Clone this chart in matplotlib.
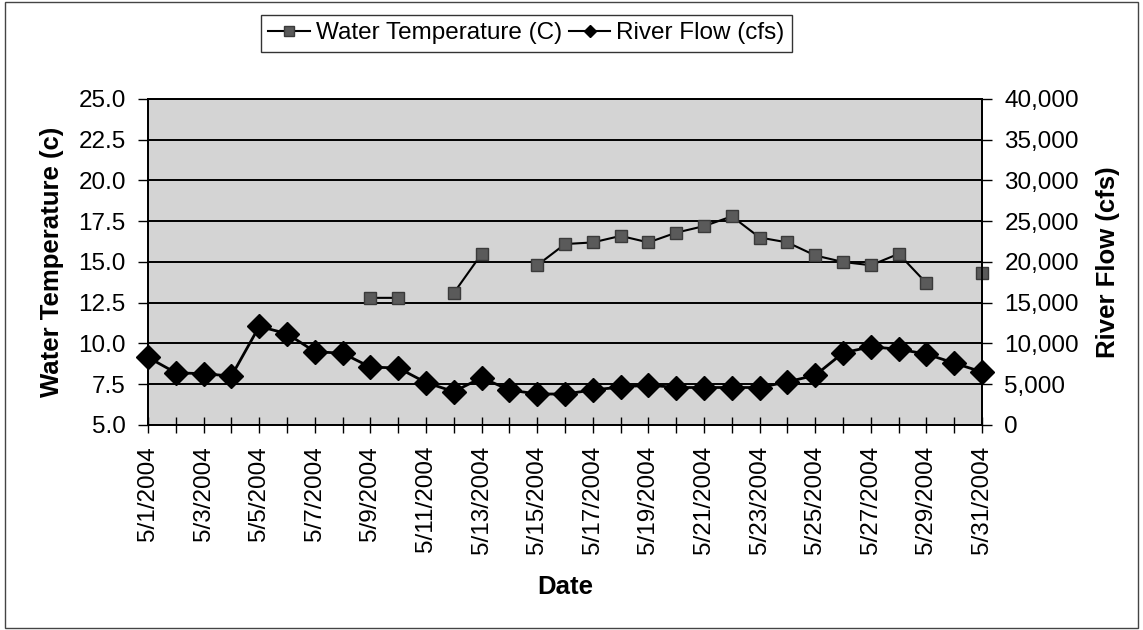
import numpy as np
import matplotlib
matplotlib.use("Agg")
import matplotlib.pyplot as plt
from matplotlib.lines import Line2D
from matplotlib.patches import Rectangle
from matplotlib.ticker import FuncFormatter

plt.rcParams['font.family'] = ['Liberation Sans', 'DejaVu Sans']

# Daily readings for May 2004
days = list(range(1, 32))
date_labels = [f"5/{d}/2004" for d in days]

water_temp = [np.nan, np.nan, np.nan, np.nan, np.nan, np.nan, np.nan, np.nan,
              12.8, 12.8, np.nan, 13.1, 15.5, np.nan, 14.8, 16.1, 16.2, 16.6,
              16.2, 16.8, 17.2, 17.8, 16.5, 16.2, 15.4, 15.0, 14.8, 15.5,
              13.7, np.nan, 14.3]

river_flow = [8300, 6400, 6300, 6000, 12100, 11200, 9000, 8800, 7100, 7000,
              5200, 4100, 5800, 4300, 3800, 3800, 4300, 4650, 4900, 4600,
              4600, 4600, 4600, 5300, 6100, 8850, 9600, 9300, 8700, 7600,
              6500]

fs_tick = 17.5
fs_label = 18.5

fig = plt.figure(figsize=(11.43, 6.3), dpi=100)
ax = fig.add_axes([0.1295, 0.3254, 0.7297, 0.5175])
ax.set_facecolor('#d4d4d4')

# temperature on the left axis
ax.plot(days, water_temp, color='black', lw=1.5, marker='s', markersize=9,
        markerfacecolor='#5a5a5a', markeredgecolor='#3a3a3a', zorder=3,
        clip_on=False)
ax.set_ylim(5, 25)
ax.set_yticks(np.arange(5, 25.1, 2.5))
ax.set_yticklabels([f"{v:.1f}" for v in np.arange(5, 25.1, 2.5)], fontsize=fs_tick)
ax.set_xlim(1, 31)
ax.set_xticks(days)
ax.set_xticklabels([lbl if i % 2 == 0 else '' for i, lbl in enumerate(date_labels)],
                   rotation=90, fontsize=fs_tick)
ax.tick_params(axis='x', direction='inout', length=12, width=1, pad=9)
ax.tick_params(axis='y', direction='out', length=7, width=1, pad=9)
ax.yaxis.grid(True, color='black', lw=1.4)
ax.set_axisbelow(True)
for s in ax.spines.values():
    s.set_color('black')
    s.set_linewidth(1.3)

ax.set_ylabel('Water Temperature (c)', fontsize=fs_label, fontweight='bold', labelpad=10)
ax.set_xlabel('Date', fontsize=fs_label, fontweight='bold', labelpad=15)

# river flow on the right axis
ax2 = ax.twinx()
ax2.plot(days, river_flow, color='black', lw=2, marker='D', markersize=12,
         markerfacecolor='black', markeredgecolor='black', zorder=3,
         clip_on=False)
ax2.set_ylim(0, 40000)
ax2.set_yticks(np.arange(0, 40001, 5000))
ax2.yaxis.set_major_formatter(FuncFormatter(lambda v, p: f"{int(v):,}"))
ax2.tick_params(axis='y', direction='out', length=7, width=1, labelsize=fs_tick, pad=9)
ax2.set_ylabel('River Flow (cfs)', fontsize=fs_label, fontweight='bold', labelpad=12)
for s in ax2.spines.values():
    s.set_color('black')
    s.set_linewidth(1.3)

handles = [
    Line2D([], [], color='black', lw=1.5, marker='s', markersize=7,
           markerfacecolor='#5a5a5a', markeredgecolor='#3a3a3a'),
    Line2D([], [], color='black', lw=1.5, marker='D', markersize=6,
           markerfacecolor='black'),
]
leg = fig.legend(handles, ['Water Temperature (C)', 'River Flow (cfs)'],
                 loc='center', bbox_to_anchor=(0.4606, 0.947), ncol=2,
                 fontsize=fs_tick, frameon=True, fancybox=False, handlelength=1.7,
                 handletextpad=0.25, columnspacing=0.3, borderpad=0.3,
                 borderaxespad=0)
leg.get_frame().set_edgecolor('black')
leg.get_frame().set_linewidth(1)

# outer frame of the chart
fig.patches.append(Rectangle((0.004, 0.003), 0.992, 0.994, transform=fig.transFigure,
                             fill=False, edgecolor='#444444', lw=1))

fig.savefig('out.png', dpi=100)
plt.close(fig)
